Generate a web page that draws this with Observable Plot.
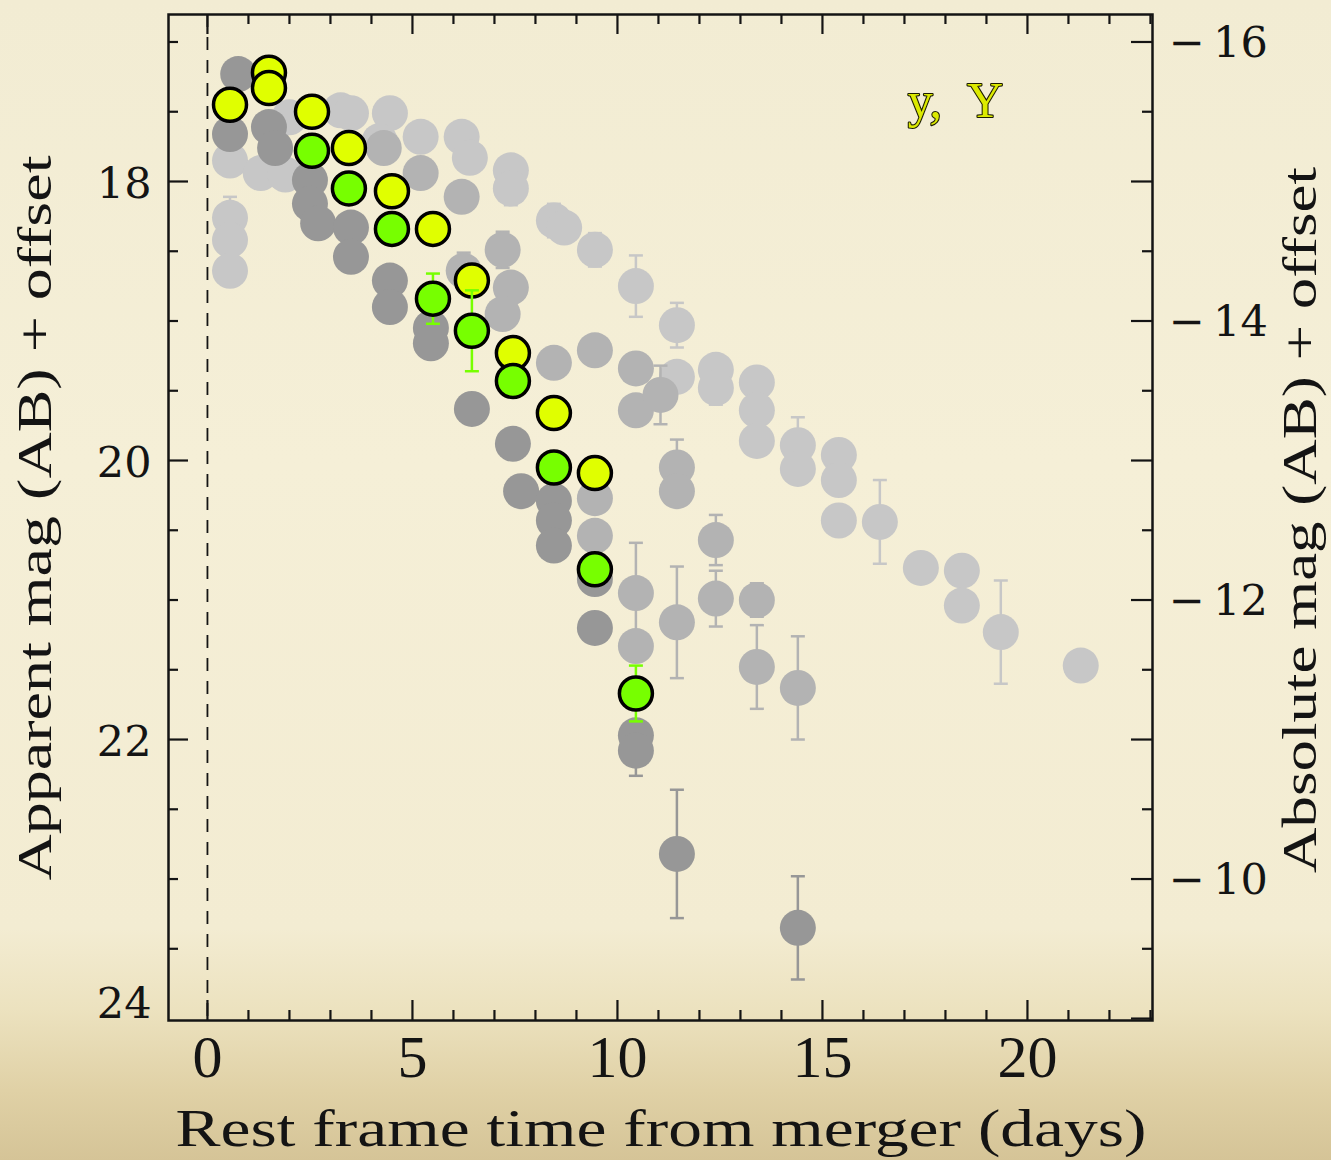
<!DOCTYPE html>
<html>
<head>
<meta charset="utf-8">
<script src="https://cdn.jsdelivr.net/npm/d3@7"></script>
<script src="https://cdn.jsdelivr.net/npm/@observablehq/plot@0.6"></script>
<style>
  html, body { margin: 0; padding: 0; }
  body {
    width: 1331px; height: 1160px; overflow: hidden;
    background: linear-gradient(to bottom, #f2ecd3 0%, #f5efd7 40%, #f3ecd2 80%, #ece2bf 87%, #e0d1a6 94%, #d5c497 100%);
  }
  #chart svg { display: block; }
</style>
</head>
<body>
<div id="chart"></div>
<script>
// ---------- data ----------
// rest-frame days, apparent mag, error
const yellowT   = [0.55, 1.5, 1.5, 2.55, 3.45, 4.5, 5.5, 6.45, 7.45, 8.45, 9.45];
const yellowMag = [17.45, 17.22, 17.33, 17.50, 17.76, 18.07, 18.34, 18.71, 19.23, 19.66, 20.09];

const greenT   = [2.55, 3.45, 4.5, 5.5, 6.45, 7.45, 8.45, 9.45, 10.45];
const greenMag = [17.78, 18.05, 18.34, 18.84, 19.07, 19.43, 20.05, 20.78, 21.67];
const greenErr = [0, 0, 0, 0.18, 0.29, 0, 0, 0, 0.2];

const darkT   = [0.75, 0.55, 1.5, 1.65, 2.5, 2.5, 2.7, 3.5, 3.5, 4.45, 4.45, 5.45, 5.45, 6.45, 7.45, 7.65, 8.45, 8.45, 8.45, 9.45, 9.45, 10.45, 10.45, 11.45, 14.4];
const darkMag = [17.23, 17.66, 17.61, 17.76, 17.99, 18.16, 18.30, 18.33, 18.54, 18.71, 18.90, 19.05, 19.16, 19.63, 19.88, 20.22, 20.29, 20.43, 20.61, 20.85, 21.20, 21.97, 22.08, 22.82, 23.35];
const darkErr = [0, 0, 0, 0, 0, 0, 0, 0, 0, 0, 0, 0, 0, 0, 0, 0, 0, 0, 0, 0, 0, 0, 0.18, 0.46, 0.37];

const midT   = [4.3, 5.2, 6.2, 7.2, 6.25, 7.4, 7.2, 8.45, 9.45, 10.45, 10.45, 11.05, 11.45, 11.45, 9.45, 9.45, 10.45, 10.45, 11.45, 12.4, 12.4, 13.4, 13.4, 14.4];
const midMag = [17.76, 17.94, 18.11, 18.49, 18.64, 18.76, 18.95, 19.30, 19.21, 19.34, 19.64, 19.53, 20.05, 20.22, 20.27, 20.54, 20.95, 21.33, 21.16, 20.57, 20.99, 21.00, 21.48, 21.63];
const midErr = [0, 0, 0, 0.13, 0.13, 0, 0, 0, 0, 0, 0, 0.21, 0.2, 0, 0.1, 0, 0.36, 0, 0.4, 0.18, 0.2, 0.12, 0.3, 0.37];

const lightT   = [0.55, 0.55, 0.55, 0.55, 1.3, 1.9, 2.0, 3.25, 3.5, 4.45, 4.2, 5.2, 6.2, 6.4, 7.4, 7.4, 8.45, 8.7, 9.45, 10.45, 11.45, 11.45, 12.4, 12.4, 13.4, 13.4, 13.4, 14.4, 14.4, 15.4, 15.4, 15.4, 16.4, 17.4, 18.4, 18.4, 19.35, 21.3];
const lightMag = [17.85, 18.26, 18.42, 18.64, 17.94, 17.95, 17.54, 17.49, 17.51, 17.51, 17.71, 17.68, 17.68, 17.83, 17.92, 18.05, 18.28, 18.33, 18.49, 18.75, 19.03, 19.40, 19.35, 19.48, 19.44, 19.64, 19.86, 19.89, 20.06, 19.96, 20.14, 20.43, 20.44, 20.77, 20.79, 21.04, 21.23, 21.47];
const lightErr = [0, 0.15, 0, 0, 0, 0, 0, 0, 0, 0, 0, 0, 0, 0, 0, 0.12, 0.12, 0, 0.12, 0.22, 0.16, 0, 0, 0.12, 0, 0, 0, 0.2, 0, 0, 0, 0, 0.3, 0, 0, 0, 0.37, 0];

const xTickLabels = [0, 5, 10, 15, 20];
const leftTickLabels = [18, 20, 22, 24];
const rightTickLabels = [-16, -14, -12, -10];
const absOffset = 33;           // apparent = absolute + offset
const bandLabel = "y,\u00a0\u00a0Y";

// ---------- layout ----------
const width = 1331, height = 1160;
const mL = 168, mR = 179, mT = 14, mB = 140;
const W = width - mL - mR, H = height - mT - mB;

const pts = (T, M, E) => T.map((t, i) => ({t, m: M[i], e: E ? E[i] : 0}));
const yellow = pts(yellowT, yellowMag);
const green = pts(greenT, greenMag, greenErr);
const dark = pts(darkT, darkMag, darkErr);
const mid = pts(midT, midMag, midErr);
const light = pts(lightT, lightMag, lightErr);

const capSymbol = {draw(ctx, size) { const w = Math.sqrt(size / Math.PI); ctx.moveTo(-w, 0); ctx.lineTo(w, 0); }};

function errMarks(data, color, sw) {
  const d = data.filter(p => p.e > 0);
  return [
    Plot.ruleX(d, {x: "t", y1: p => p.m - p.e, y2: p => p.m + p.e, stroke: color, strokeWidth: sw}),
    Plot.dot(d, {x: "t", y: p => p.m - p.e, symbol: capSymbol, r: 7, stroke: color, strokeWidth: sw, fill: "none"}),
    Plot.dot(d, {x: "t", y: p => p.m + p.e, symbol: capSymbol, r: 7, stroke: color, strokeWidth: sw, fill: "none"})
  ];
}

const leftMajor = [18, 20, 22];
const leftMinor = d3.range(17, 24, 0.5).filter(v => !leftMajor.includes(v));
const rightLong = d3.range(-16, -8.9, 1);
const rightShort = d3.range(-15.5, -9, 1);
const xMajor = d3.range(0, 24, 5);
const xMinor = d3.range(0, 24, 1).filter(v => v % 5 !== 0);

const ink = "#141414";
const cLight = "#c7c7c7", cMid = "#b3b3b3", cDark = "#979797";
const cYellow = "#e0ff00", cGreen = "#77ff00";

const plot = Plot.plot({
  width, height,
  marginLeft: mL, marginRight: mR, marginTop: mT, marginBottom: mB,
  style: "background: transparent; overflow: visible;",
  x: {domain: [-0.95, 23.05], axis: null},
  y: {domain: [16.803, 24.014], reverse: true, axis: null},
  marks: [
    Plot.ruleX([0], {stroke: ink, strokeWidth: 1.8, strokeDasharray: "13,10"}),
    ...errMarks(light, cLight, 2.5),
    Plot.dot(light, {x: "t", y: "m", r: 18, fill: cLight}),
    ...errMarks(mid, cMid, 2.5),
    Plot.dot(mid, {x: "t", y: "m", r: 18, fill: cMid}),
    ...errMarks(dark, cDark, 2.5),
    Plot.dot(dark, {x: "t", y: "m", r: 18, fill: cDark}),
    Plot.dot(yellow, {x: "t", y: "m", r: 16.5, fill: cYellow, stroke: "#000", strokeWidth: 3.5}),
    ...errMarks(green, cGreen, 2.5),
    Plot.dot(green, {x: "t", y: "m", r: 16.5, fill: cGreen, stroke: "#000", strokeWidth: 3.5}),
    Plot.frame({stroke: ink, strokeWidth: 2.5}),
    // inward ticks
    Plot.ruleY(leftMinor, {y: d => d, insetRight: W - 10, stroke: ink, strokeWidth: 2.2}),
    Plot.ruleY(leftMajor, {y: d => d, insetRight: W - 20, stroke: ink, strokeWidth: 2.2}),
    Plot.ruleY(rightShort, {y: d => d + absOffset, insetLeft: W - 10, stroke: ink, strokeWidth: 2.2}),
    Plot.ruleY(rightLong, {y: d => d + absOffset, insetLeft: W - 21, stroke: ink, strokeWidth: 2.2}),
    Plot.ruleX(xMinor, {x: d => d, insetTop: H - 10, stroke: ink, strokeWidth: 2.2}),
    Plot.ruleX(xMajor, {x: d => d, insetTop: H - 20, stroke: ink, strokeWidth: 2.2}),
    Plot.ruleX(xMinor, {x: d => d, insetBottom: H - 10, stroke: ink, strokeWidth: 2.2}),
    Plot.ruleX(xMajor, {x: d => d, insetBottom: H - 20, stroke: ink, strokeWidth: 2.2}),
    // tick labels
    Plot.text(leftTickLabels.filter(v => v < 24), {y: d => d, text: d => String(d), frameAnchor: "left", textAnchor: "end", dx: -17, dy: 3, fontSize: 43, fontFamily: "DejaVu Serif", fill: ink}),
    Plot.text(leftTickLabels.filter(v => v >= 24), {y: d => d, text: d => String(d), frameAnchor: "left", textAnchor: "end", dx: -17, dy: -14, fontSize: 43, fontFamily: "DejaVu Serif", fill: ink}),
    Plot.text(rightTickLabels, {y: d => d + absOffset, text: d => "\u2212\u2009" + Math.abs(d), frameAnchor: "right", textAnchor: "start", dx: 16, dy: 1, fontSize: 43, fontFamily: "DejaVu Serif", fill: ink}),
    Plot.text(xTickLabels, {x: d => d, text: d => String(d), frameAnchor: "bottom", dy: 56, fontSize: 60, fontFamily: "Liberation Serif", fill: ink, ariaLabel: "xticklabels"}),
    Plot.text([bandLabel], {text: d => d, frameAnchor: "top-right", lineAnchor: "middle", textAnchor: "middle", dx: -197, dy: 86, fontSize: 50, fontFamily: "Liberation Serif", fill: "#dcea00", stroke: "#1c1c00", strokeWidth: 2.2, paintOrder: "stroke"})
  ]
});

document.getElementById("chart").appendChild(plot);

// narrow, tall tick numerals on the x axis
d3.select(plot).selectAll('g[aria-label="xticklabels"] text').each(function () {
  const n = this.textContent.length;
  this.setAttribute("textLength", n * 23);
  this.setAttribute("lengthAdjust", "spacingAndGlyphs");
});

// axis titles
const svg = d3.select(plot);
svg.append("text")
  .attr("x", 661).attr("y", 1146)
  .attr("text-anchor", "middle")
  .attr("font-family", "Liberation Serif").attr("font-size", 52).attr("fill", ink)
  .attr("textLength", 971).attr("lengthAdjust", "spacingAndGlyphs")
  .text("Rest frame time from merger (days)");
svg.append("text")
  .attr("transform", "translate(51,518) rotate(-90)")
  .attr("text-anchor", "middle")
  .attr("font-family", "Liberation Serif").attr("font-size", 48).attr("fill", ink)
  .attr("textLength", 725).attr("lengthAdjust", "spacingAndGlyphs")
  .text("Apparent mag (AB) + offset");
svg.append("text")
  .attr("transform", "translate(1316,520) rotate(-90)")
  .attr("text-anchor", "middle")
  .attr("font-family", "Liberation Serif").attr("font-size", 48).attr("fill", ink)
  .attr("textLength", 706).attr("lengthAdjust", "spacingAndGlyphs")
  .text("Absolute mag (AB) + offset");
</script>
</body>
</html>
